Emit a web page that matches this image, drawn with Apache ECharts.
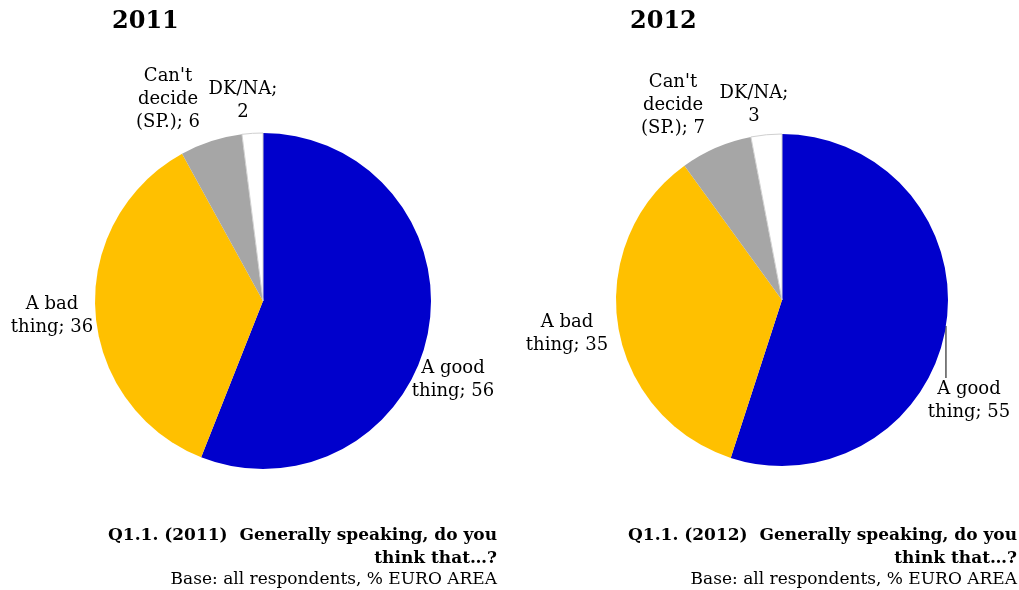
<!DOCTYPE html>
<html>
<head>
<meta charset="utf-8">
<script src="https://cdn.jsdelivr.net/npm/echarts@6/dist/echarts.min.js"></script>
<style>
html,body{margin:0;padding:0;background:#fff;}
#main{width:1019px;height:590px;}
</style>
</head>
<body>
<div id="main"></div>
<script>
// ---- data ----
var categories = ["A good thing", "A bad thing", "Can't decide (SP.)", "DK/NA"];
var labelPrefix = ["A good\nthing; ", "A bad\nthing; ", "Can't\ndecide\n(SP.); ", "DK/NA;\n"];
var years = ["2011", "2012"];
var values2011 = [56, 36, 6, 2];
var values2012 = [55, 35, 7, 3];

// ---- styles / layout ----
var colors = ["#0000CC", "#FFC000", "#A6A6A6", "#FFFFFF"];
var FONT = "'DejaVu Serif', 'Liberation Serif', serif";
var pieLayout = [
  { center: [263, 301], radius: 168 },
  { center: [782, 300], radius: 166 }
];
// label block centres per pie, per slice
var labelPos = [
  [[453, 380], [52, 316], [168, 99], [243, 101]],
  [[969, 401], [567, 334], [673, 105], [754, 105]]
];
var guideEndY = [null, 378];

function buildData(vals, pieIdx) {
  return categories.map(function (c, i) {
    var item = { name: c, value: vals[i], itemStyle: { color: colors[i] } };
    if (i === 3) { item.itemStyle.borderColor = "#D0D0D0"; item.itemStyle.borderWidth = 1; }
    item.labelLine = { show: (pieIdx === 1 && i === 0) };
    return item;
  });
}

function makeSeries(vals, pieIdx) {
  return {
    type: "pie",
    center: pieLayout[pieIdx].center,
    radius: pieLayout[pieIdx].radius,
    startAngle: 90,
    clockwise: true,
    avoidLabelOverlap: false,
    animation: false,
    silent: true,
    data: buildData(vals, pieIdx),
    label: {
      show: true,
      position: "outside",
      formatter: function (p) { return labelPrefix[p.dataIndex] + p.value; },
      fontFamily: FONT,
      fontSize: 18,
      lineHeight: 23,
      color: "#000",
      align: "center"
    },
    labelLine: { lineStyle: { color: "#000", width: 1 }, length: 10, length2: 10 },
    labelLayout: function (params) {
      var pos = labelPos[pieIdx][params.dataIndex];
      var out = { x: pos[0], y: pos[1], align: "center", verticalAlign: "middle" };
      if (pieIdx === 1 && params.dataIndex === 0 && params.labelLinePoints) {
        var s = params.labelLinePoints[0];
        out.labelLinePoints = [[s[0], s[1]], [s[0], guideEndY[1]]];
      }
      return out;
    }
  };
}

var chart = echarts.init(document.getElementById("main"), null, { renderer: "canvas" });
var footBold = function (y) { return "Q1.1. (" + y + ")  Generally speaking, do you\nthink that…?"; };
var footBase = "Base: all respondents, % EURO AREA";

chart.setOption({
  backgroundColor: "#fff",
  animation: false,
  series: [makeSeries(values2011, 0), makeSeries(values2012, 1)],
  graphic: [
    { type: "text", x: 112, y: 22, style: { text: years[0], font: "bold 24px " + FONT, fill: "#000", textVerticalAlign: "middle" } },
    { type: "text", x: 630, y: 22, style: { text: years[1], font: "bold 24px " + FONT, fill: "#000", textVerticalAlign: "middle" } },
    { type: "text", x: 497, y: 524, style: { text: footBold(years[0]), font: "bold 17px " + FONT, lineHeight: 23, fill: "#000", textAlign: "right" } },
    { type: "text", x: 497, y: 570, style: { text: footBase, font: "17px " + FONT, lineHeight: 20, fill: "#000", textAlign: "right" } },
    { type: "text", x: 1017, y: 524, style: { text: footBold(years[1]), font: "bold 17px " + FONT, lineHeight: 23, fill: "#000", textAlign: "right" } },
    { type: "text", x: 1017, y: 570, style: { text: footBase, font: "17px " + FONT, lineHeight: 20, fill: "#000", textAlign: "right" } }
  ]
});
</script>
</body>
</html>
